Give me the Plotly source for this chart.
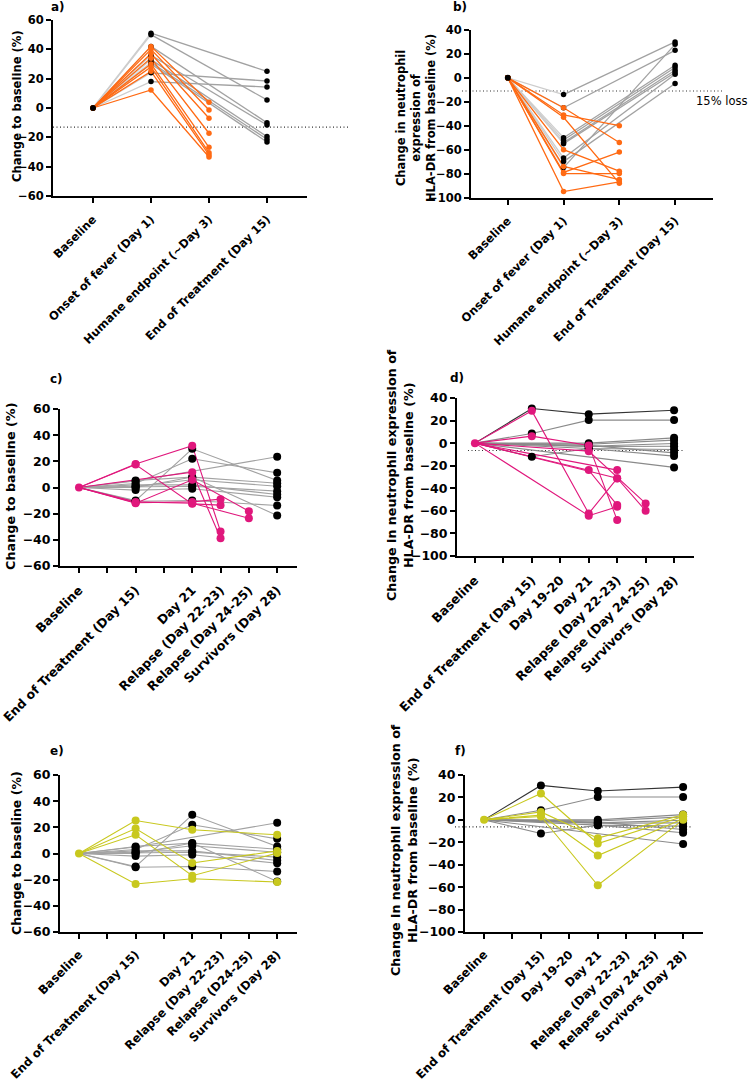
import plotly.graph_objects as go

W, H = 750, 1086
FONT = "DejaVu Sans, Verdana, sans-serif"

# ---------------- data ----------------
AB_CATS = ["Baseline", "Onset of fever (Day 1)", "Humane endpoint (~Day 3)", "End of Treatment (Day 15)"]
C_CATS = ["Baseline", "", "End of Treatment (Day 15)", "", "Day 21",
          "Relapse (Day 22-23)", "Relapse (Day 24-25)", "Survivors (Day 28)"]
D_CATS = ["Baseline", "", "End of Treatment (Day 15)", "Day 19-20", "Day 21",
          "Relapse (Day 22-23)", "Relapse (Day 24-25)", "Survivors (Day 28)"]
E_CATS = ["Baseline", "", "End of Treatment (Day 15)", "", "Day 21",
          "Relapse (Day 22-23)", "Relapse (D24-25)", "Survivors (Day 28)"]
F_CATS = D_CATS

# panel a: change to baseline (%)
a_surv_onset = [51, 50, 24, 18, 42, 36, 33, 31, 30]
a_surv_end = [25, 5.5, 18.4, 14.3, -10, -11.6, -19.5, -21.3, -23.2]
a_died_onset = [42, 40, 37, 34, 30, 28, 25, 12.3]
a_died_humane = [3.9, -1.4, -7, -17.2, -26.8, -30.5, -32, -33.4]
a_ref = -13

# panel b: neutrophil HLA-DR change (%)
b_surv_onset = [-14, -25, -75, -50, -52, -54, -55, -67, -70]
b_surv_end = [30, 23, 28, 10.6, 8.7, 6.4, 4.5, 3.1, -4.7]
b_died_onset = [-25, -31, -33, -60, -74, -79, -80, -95]
b_died_humane = [-54, -40, -88, -78, -85, -62, -80, -87]
b_ref = -11

# panel c: change to baseline (%), relapse group
c_surv_eot = [-10, 5, 3, 5.4, 1, 0.3, 2, -10.5, -2, 0]
c_surv_d21 = [29.6, None, 22, 7.9, 5.9, 1, 2, -9.9, -1, 8]
c_surv_d28 = [5.4, 23.5, 11.2, 3.3, 1, -2.8, -5.4, -13.8, -7.4, -21.4]
c_rel_eot = [18, None, 17.5, -11.7, -12, -11]
c_rel_d21 = [32, 11.7, -12.5, -11, 5.9, -12]
c_rel_r22 = [-33.6, -38.8, -13.5, -8.9, None, None]
c_rel_r24 = [None, None, None, None, -18.1, -23.5]

# panel d: HLA-DR, relapse group
d_surv_eot = [30.7, 8.6, -12.1, None, None, None, None, None, None, None]
d_surv_d21 = [25.7, 20.4, -4.7, 0, -1, -2.7, -3, -4.7, -2, None]
d_surv_d28 = [29.2, 20.4, -11.5, 4.7, 2.7, -0.3, -2.7, -5.6, -8.6, -21.5]
d_rel_eot = [28.6, None, None, None, 6.2, None, None]
d_rel_d21 = [-62.3, -64.3, -23.9, None, -2, -7.1, None]
d_rel_r22 = [-31.3, -56.4, -54.9, -23.9, -68.2, None, -31]
d_rel_r24 = [None, None, None, None, None, -53.4, -59.9]
d_ref = -6.5

# panel e: change to baseline (%), second group
e_surv_eot = [-10, 5, 3, 5.4, 1, 0.3, 2, -10.5, -2, 0]
e_surv_d21 = [29.6, None, 22, 7.9, 5.9, 1, 2, -9.9, -1, 8]
e_surv_d28 = [5.4, 23.5, 11.2, 3.3, 1, -2.8, -5.4, -13.8, -7.4, -21.4]
e_grp_eot = [25.2, 14.3, 19.1, -23.3]
e_grp_d21 = [18.1, -17, -7.3, -19.3]
e_grp_d28 = [14.3, 0.3, 2, -21.8]

# panel f: HLA-DR, second group
f_surv_eot = [30.7, 8.6, -12.1, None, None, None, None, None, None, None]
f_surv_d21 = [25.7, 20.4, -4.7, 0, -1, -2.7, -3, -4.7, -2, None]
f_surv_d28 = [29.2, 20.4, -11.5, 4.7, 2.7, -0.3, -2.7, -5.6, -8.6, -21.5]
f_grp_eot = [23.5, 7.1, 4.2, 3]
f_grp_d21 = [-21.1, -16.3, -31.8, -58.3]
f_grp_d28 = [3, 4.5, 1, 0]
f_ref = -6.3

ORANGE = "#FF6A13"
PINK = "#E0177C"
YELLOW = "#C8C81E"
GREY_L = "#CDCDCD"
GREY = "#A2A2A2"
GREY_D = "#8A8A8A"

fig = go.Figure()


def paths(xs, cols):
    out = []
    for vals in zip(*cols):
        out.append([(x, v) for x, v in zip(xs, (0,) + vals) if v is not None])
    return out


def add_lines(pths, color, width, xa, ya, skip_first=False, only_first=False):
    X, Y = [], []
    for p in pths:
        if only_first:
            p = p[:2]
        elif skip_first:
            p = p[1:]
        for x, y in p:
            X.append(x); Y.append(y)
        X.append(None); Y.append(None)
    fig.add_trace(go.Scatter(x=X, y=Y, mode="lines", line=dict(color=color, width=width),
                             xaxis=xa, yaxis=ya, hoverinfo="skip"))


def add_marks(pths, color, size, xa, ya):
    X = [x for p in pths for x, _ in p]
    Y = [y for p in pths for _, y in p]
    fig.add_trace(go.Scatter(x=X, y=Y, mode="markers", marker=dict(color=color, size=size),
                             xaxis=xa, yaxis=ya, hoverinfo="skip", cliponaxis=False))


# panel a
pa_s = paths([0, 1, 3], [a_surv_onset, a_surv_end])
pa_d = paths([0, 1, 2], [a_died_onset, a_died_humane])
add_lines(pa_s, GREY_L, 1.3, "x", "y", only_first=True)
add_lines(pa_s, GREY, 1.3, "x", "y", skip_first=True)
add_lines(pa_d, ORANGE, 1.3, "x", "y")
add_marks(pa_s, "black", 5.5, "x", "y")
add_marks(pa_d, ORANGE, 5.5, "x", "y")
add_marks([[(0, 0)]], "black", 6, "x", "y")

# panel b
pb_s = paths([0, 1, 3], [b_surv_onset, b_surv_end])
pb_d = paths([0, 1, 2], [b_died_onset, b_died_humane])
add_lines(pb_s, GREY_L, 1.3, "x2", "y2", only_first=True)
add_lines(pb_s, GREY, 1.3, "x2", "y2", skip_first=True)
add_lines(pb_d, ORANGE, 1.3, "x2", "y2")
add_marks(pb_s, "black", 5.5, "x2", "y2")
add_marks(pb_d, ORANGE, 5.5, "x2", "y2")
add_marks([[(0, 0)]], "black", 6, "x2", "y2")

# panel c
pc_s = paths([0, 2, 4, 7], [c_surv_eot, c_surv_d21, c_surv_d28])
pc_r = paths([0, 2, 4, 5, 6], [c_rel_eot, c_rel_d21, c_rel_r22, c_rel_r24])
add_lines(pc_s, GREY, 1.1, "x3", "y3")
add_lines(pc_r, PINK, 1.1, "x3", "y3")
add_marks([p[1:] for p in pc_s], "black", 8, "x3", "y3")
add_marks([p[1:] for p in pc_r] + [[(0, 0)]], PINK, 8, "x3", "y3")

# panel d
pd_s = paths([0, 2, 4, 7], [d_surv_eot, d_surv_d21, d_surv_d28])
pd_r = paths([0, 2, 4, 5, 6], [d_rel_eot, d_rel_d21, d_rel_r22, d_rel_r24])
add_lines(pd_s[1:], GREY_D, 1.1, "x4", "y4")
add_lines(pd_s[:1], "#333333", 1.1, "x4", "y4")
add_lines(pd_r, PINK, 1.1, "x4", "y4")
add_marks([p[1:] for p in pd_s], "black", 8, "x4", "y4")
add_marks([p[1:] for p in pd_r] + [[(0, 0)]], PINK, 8, "x4", "y4")

# panel e
pe_s = paths([0, 2, 4, 7], [e_surv_eot, e_surv_d21, e_surv_d28])
pe_g = paths([0, 2, 4, 7], [e_grp_eot, e_grp_d21, e_grp_d28])
add_lines(pe_s, GREY, 1.1, "x5", "y5")
add_lines(pe_g, YELLOW, 1.1, "x5", "y5")
add_marks([p[1:] for p in pe_s], "black", 8, "x5", "y5")
add_marks([p[1:] for p in pe_g] + [[(0, 0)]], YELLOW, 8, "x5", "y5")

# panel f
pf_s = paths([0, 2, 4, 7], [f_surv_eot, f_surv_d21, f_surv_d28])
pf_g = paths([0, 2, 4, 7], [f_grp_eot, f_grp_d21, f_grp_d28])
add_lines(pf_s[1:], GREY_D, 1.1, "x6", "y6")
add_lines(pf_s[:1], "#333333", 1.1, "x6", "y6")
add_lines(pf_g, YELLOW, 1.1, "x6", "y6")
add_marks([p[1:] for p in pf_s], "black", 8, "x6", "y6")
add_marks([p[1:] for p in pf_g] + [[(0, 0)]], YELLOW, 8, "x6", "y6")


def px(x):
    return x / W


def py(y):
    return 1 - y / H


def xax(dom, rng, cats, anchor, fs, so=5):
    return dict(domain=[px(dom[0]), px(dom[1])], range=rng, anchor=anchor, automargin=False,
                tickvals=list(range(len(cats))), ticktext=cats, tickangle=-45,
                ticklabelstandoff=so,
                showline=True, linecolor="black", linewidth=2, ticks="outside",
                ticklen=5, tickwidth=2, tickcolor="black", showgrid=False, zeroline=False,
                tickfont=dict(family=FONT, size=fs, color="black", weight="bold"))


def yax(dom, rng, dt, anchor, fs):
    return dict(domain=[py(dom[1]), py(dom[0])], range=rng, anchor=anchor, dtick=dt,
                automargin=False, tick0=0, showline=True, linecolor="black", linewidth=2,
                ticks="outside", ticklen=5, tickwidth=2, tickcolor="black", showgrid=False,
                zeroline=False, tickfont=dict(family=FONT, size=fs, color="black", weight="bold"))


layout = dict(
    width=W, height=H, margin=dict(l=0, r=0, t=0, b=0, autoexpand=False),
    paper_bgcolor="white", plot_bgcolor="white", showlegend=False,
    xaxis=xax((53, 307), [-0.69, 3.69], AB_CATS, "y", 11.5),
    yaxis=yax((20, 196), [-60, 60], 20, "x", 11.5),
    xaxis2=xax((471, 713), [-0.66, 3.68], AB_CATS, "y2", 11.5),
    yaxis2=yax((30, 197.5), [-100, 40], 20, "x2", 11.5),
    xaxis3=xax((60, 297), [-0.67, 7.7], C_CATS, "y3", 12.5),
    yaxis3=yax((409, 566), [-60, 60], 20, "x3", 12.5),
    xaxis4=xax((457, 694), [-0.63, 7.7], D_CATS, "y4", 12.5),
    yaxis4=yax((398, 556), [-100, 40], 20, "x4", 12.5),
    xaxis5=xax((60, 297), [-0.67, 7.7], E_CATS, "y5", 11.8, 4),
    yaxis5=yax((775, 932), [-60, 60], 20, "x5", 12.5),
    xaxis6=xax((465, 703), [-0.67, 7.7], F_CATS, "y6", 11.8, 4),
    yaxis6=yax((775, 932), [-100, 40], 20, "x6", 12.5),
)
fig.update_layout(**layout)

# dotted reference lines
for (x0, x1, yref, val) in [(53, 348, "y", a_ref), (462, 723, "y2", b_ref),
                            (468, 684, "y4", d_ref), (455, 693, "y6", f_ref)]:
    fig.add_shape(type="line", xref="paper", yref=yref, x0=px(x0), x1=px(x1), y0=val, y1=val,
                  line=dict(color="#333333", width=1.2, dash="1px,2.5px"), layer="below")

ann = []
# panel letters
for t, x, y in [("a)", 49, 7), ("b)", 451, 7), ("c)", 48, 379), ("d)", 448, 378),
                ("e)", 48, 751), ("f)", 453, 751)]:
    ann.append(dict(text=t, x=px(x), y=py(y), xref="paper", yref="paper", xanchor="left",
                    yanchor="middle", showarrow=False,
                    font=dict(family=FONT, size=12, color="black", weight="bold")))
# y titles
for t, x, y, fs in [("Change to baseline (%)", 17, 106, 11.6),
                    ("Change in neutrophil<br>expression of<br>HLA-DR from baseline (%)", 416, 118, 11.5),
                    ("Change to baseline (%)", 10, 486, 12.8),
                    ("Change in neutrophil expression of<br>HLA-DR from baseline (%)", 400, 475, 12.7),
                    ("Change to baseline (%)", 16, 853, 12.5),
                    ("Change in neutrophil expression of<br>HLA-DR from baseline (%)", 404, 850, 12.7)]:
    ann.append(dict(text=t, x=px(x), y=py(y), xref="paper", yref="paper", xanchor="center",
                    yanchor="middle", textangle=-90, showarrow=False, align="center",
                    font=dict(family=FONT, size=fs, color="black", weight="bold")))
ann.append(dict(text="15% loss", x=px(749), y=py(101), xref="paper", yref="paper",
                xanchor="right", yanchor="middle", showarrow=False,
                font=dict(family=FONT, size=11.5, color="black")))
fig.update_layout(annotations=ann)

fig.write_html("out.html", config={"displayModeBar": False},
               post_script="document.body.style.margin='0';")
